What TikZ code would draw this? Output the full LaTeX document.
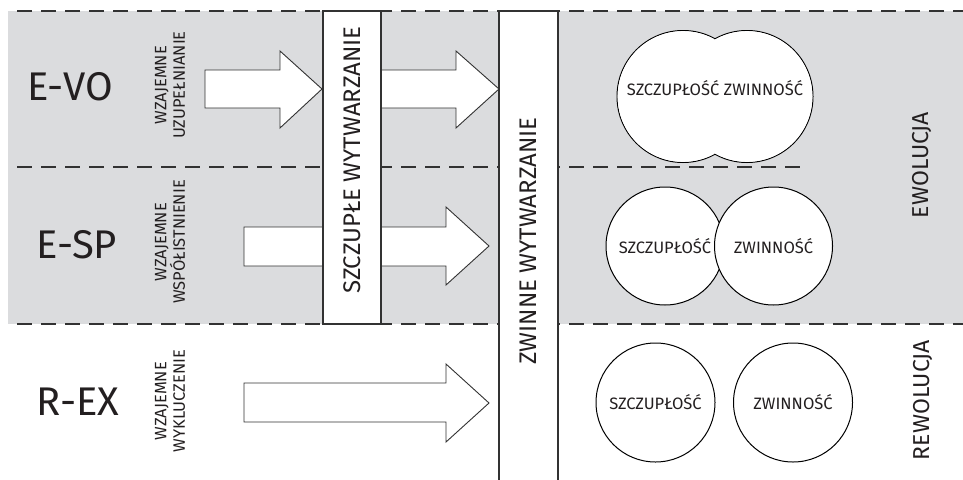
\documentclass[tikz,border=0pt]{standalone}
\usepackage{fontspec}
\setmainfont{Fira Sans}
\begin{document}
\begin{tikzpicture}[x=1pt,y=-1pt,line join=miter]
\definecolor{bandgray}{RGB}{219,220,222}
\definecolor{linegray}{RGB}{50,50,50}
\definecolor{inkc}{RGB}{35,31,32}
\tikzset{
  dashline/.style={draw=linegray,line width=1.3pt,dash pattern=on 15pt off 9pt,dash phase=15pt},
  blockarrow/.style={draw=linegray,fill=white,line width=0.9pt},
  barbox/.style={draw=linegray,fill=white,line width=1.3pt},
  blob/.style={circle,draw=black,fill=white,line width=1pt,inner sep=0pt},
  biglabel/.style={font=\fontsize{40}{48}\selectfont,text=inkc,inner sep=0pt},
  relation/.style={font=\fontsize{16.5}{18.5}\selectfont,text=inkc,rotate=90,align=center,inner sep=0pt},
  bartext/.style={font=\fontsize{24}{28}\selectfont,text=inkc,rotate=90,inner sep=0pt},
  circtext/.style={font=\fontsize{16.5}{19}\selectfont,text=inkc,inner sep=0pt},
  sidetext/.style={font=\fontsize{23}{28}\selectfont,text=inkc,rotate=90,inner sep=0pt}
}
\useasboundingbox (0,0) rectangle (963,479);
% band
\fill[bandgray] (8,11) rectangle (963,324);
\coordinate (t1) at (8,11); \coordinate (t2) at (963,11);
\coordinate (m1) at (8,167); \coordinate (m2) at (808,167);
\coordinate (b1) at (8,324); \coordinate (b2) at (963,324);
\draw[dashline] (t1) -- (t2);
\draw[dashline] (m1) -- (m2);
\draw[dashline] (b1) -- (b2);
% arrows
\draw[blockarrow] (205,70) -- (280,70) -- (280,51) -- (322,89) -- (280,128) -- (280,108) -- (205,108) -- cycle;
\draw[blockarrow] (381,70) -- (456,70) -- (456,51) -- (499,89) -- (456,128) -- (456,108) -- (381,108) -- cycle;
\draw[blockarrow] (244,227) -- (446,227) -- (446,207) -- (489,246) -- (446,285) -- (446,266) -- (244,266) -- cycle;
\draw[blockarrow] (244,383) -- (446,383) -- (446,364) -- (489,403) -- (446,442) -- (446,422) -- (244,422) -- cycle;
% bars
\draw[barbox] (323,11) rectangle (381,324);
\node[bartext] (szw) at (352,160) {SZCZUPŁE WYTWARZANIE};
\draw[barbox] (499,484) -- (499,11) -- (558,11) -- (558,484);
\node[bartext] (zww) at (528,241) {ZWINNE WYTWARZANIE};
% left labels
\node[biglabel] (evo) at (70,87) {E-VO};
\node[biglabel] (esp) at (77,245) {E-SP};
\node[biglabel] (rex) at (78,402) {R-EX};
\node[relation] (r1) at (170,85) {WZAJEMNE\\UZUPEŁNIANIE};
\node[relation] (r2) at (170,242) {WZAJEMNE\\WSPÓŁISTNIENIE};
\node[relation] (r3) at (170,401) {WZAJEMNE\\WYKLUCZENIE};
% circles row 1 (merged)
\node[blob,minimum size=132pt] (c1a) at (683,96.5) {};
\node[blob,minimum size=132pt] (c1b) at (747,96.5) {};
\fill[white] (c1a.center) circle (65.3pt) (c1b.center) circle (65.3pt);
\node[circtext] (c1t) at (715,88) {SZCZUPŁOŚĆ ZWINNOŚĆ};
% circles row 2 (overlapping)
\node[blob,minimum size=118pt] (c2a) at (665,246) {};
\node[blob,minimum size=118pt] (c2b) at (773.5,246) {};
\node[circtext] at (c2a.center) {SZCZUPŁOŚĆ};
\node[circtext] at (c2b.center) {ZWINNOŚĆ};
% circles row 3 (separate)
\node[blob,minimum size=119pt] (c3a) at (655.5,402.5) {};
\node[blob,minimum size=119pt] (c3b) at (793,402.5) {};
\node[circtext] at (c3a.center) {SZCZUPŁOŚĆ};
\node[circtext] at (c3b.center) {ZWINNOŚĆ};
% right labels
\node[sidetext] (ewo) at (922.5,165) {EWOLUCJA};
\node[sidetext] (rew) at (923,400) {REWOLUCJA};
\end{tikzpicture}
\end{document}
